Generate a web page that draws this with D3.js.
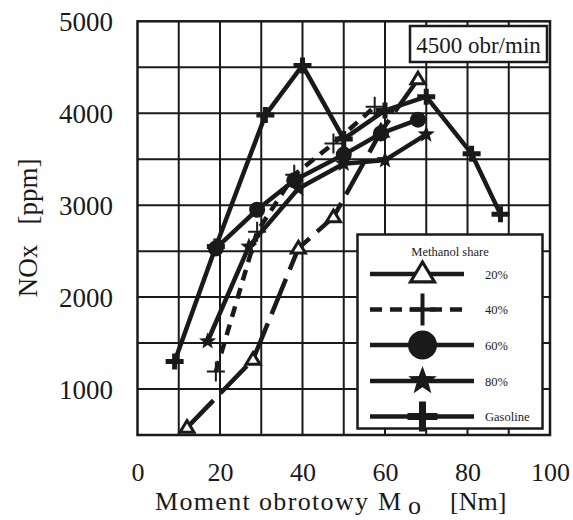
<!DOCTYPE html>
<html><head><meta charset="utf-8">
<script src="https://cdn.jsdelivr.net/npm/d3@7"></script>
<style>body{margin:0;background:#fff}svg{display:block}text{font-family:"Liberation Serif","Times New Roman",serif}</style>
</head><body><svg id="c" width="573" height="520"></svg>
<script>
// ---- data (torque [Nm], NOx [ppm]) ----
const torque20 = [12, 28, 39, 47.5, 59, 68];
const nox20    = [580, 1320, 2530, 2870, 3800, 4370];
const torque40 = [19, 29, 38, 47.5, 57.5];
const nox40    = [1190, 2710, 3330, 3670, 4070];
const torque60 = [19, 29, 38, 50, 59, 68];
const nox60    = [2530, 2950, 3270, 3550, 3780, 3930];
const torque80 = [17, 27, 39, 50, 60, 70];
const nox80    = [1520, 2550, 3180, 3450, 3490, 3770];
const torqueGas = [9, 19, 31, 40, 50, 60, 70, 81, 88];
const noxGas    = [1300, 2550, 3980, 4520, 3720, 4030, 4180, 3560, 2900];
const seriesNames = ["20%", "40%", "60%", "80%", "Gasoline"];
const xTicks = [0, 20, 40, 60, 80, 100];
const yTicks = [1000, 2000, 3000, 4000, 5000];
const legendTitle = "Methanol share";
const speedLabel = "4500 obr/min";

const FONT = "Liberation Serif";
const svg = d3.select("#c");
const x = d3.scaleLinear().domain([0, 100]).range([137.5, 550]);
const y = d3.scaleLinear().domain([500, 5000]).range([435, 21.3]);
const ink = "#1a1a1a";

// grid
const g = svg.append("g");
g.selectAll("line.vx").data(d3.range(10, 100, 10)).join("line")
  .attr("x1", d => x(d)).attr("x2", d => x(d)).attr("y1", y(500)).attr("y2", y(5000))
  .attr("stroke", ink).attr("stroke-width", 2);
g.selectAll("line.hy").data(d3.range(1000, 5000, 500)).join("line")
  .attr("y1", d => y(d)).attr("y2", d => y(d)).attr("x1", x(0)).attr("x2", x(100))
  .attr("stroke", ink).attr("stroke-width", 2);
g.append("rect").attr("x", x(0)).attr("y", y(5000)).attr("width", x(100) - x(0)).attr("height", y(500) - y(5000))
  .attr("fill", "none").attr("stroke", ink).attr("stroke-width", 2.5);

// axes labels
const xAxis = d3.axisBottom(x).tickValues(xTicks).tickFormat(d3.format("d")).tickSize(0).tickPadding(0);
const xa = svg.append("g").attr("transform", `translate(0,${y(500)})`).call(xAxis).attr("font-family", FONT);
xa.select(".domain").remove();
xa.selectAll("text").attr("font-size", 26).attr("font-family", FONT).attr("fill", ink)
  .attr("dy", null).attr("y", 46);
const yAxis = d3.axisLeft(y).tickValues(yTicks).tickFormat(d3.format("d")).tickSize(0).tickPadding(0);
const ya = svg.append("g").attr("transform", `translate(113,0)`).call(yAxis).attr("font-family", FONT);
ya.select(".domain").remove();
ya.selectAll("text").attr("font-size", 27).attr("font-family", FONT).attr("fill", ink).attr("dy", "0.34em");

// axis titles
const xt = svg.append("text").attr("y", 510).attr("font-family", FONT).attr("font-size", 26).attr("fill", ink);
xt.append("tspan").attr("x", 155).attr("textLength", 213).attr("lengthAdjust", "spacing").text("Moment obrotowy");
xt.append("tspan").attr("x", 378).text("M");
xt.append("tspan").attr("x", 408).attr("dy", 4).text("o");
xt.append("tspan").attr("x", 450).attr("dy", -4).text("[Nm]");
svg.append("text").attr("transform", "translate(37,228) rotate(-90)").attr("text-anchor", "middle")
  .attr("font-family", FONT).attr("font-size", 27).attr("fill", ink).style("white-space", "pre").text("NOx   [ppm]");

// marker painters
function triPath(s) { return `M0,${-s}L${s},${s * 0.65}L${-s},${s * 0.65}Z`; }
function starPath(R) {
  const r = R * 0.42; let p = "";
  for (let i = 0; i < 10; i++) {
    const a = -Math.PI / 2 + i * Math.PI / 5, rr = i % 2 ? r : R;
    p += (i ? "L" : "M") + (rr * Math.cos(a)).toFixed(2) + "," + (rr * Math.sin(a)).toFixed(2);
  }
  return p + "Z";
}
function plusPath(h, v) { return `M${-h},0L${h},0M0,${-v}L0,${v}`; }

function drawMarker(sel, kind, big) {
  if (kind === 0) sel.append("path").attr("d", triPath(big ? 12 : 7)).attr("fill", "#fff").attr("stroke", ink).attr("stroke-width", big ? 3.2 : 3);
  if (kind === 1) sel.append("path").attr("d", big ? plusPath(13, 16) : plusPath(9, 10)).attr("fill", "none").attr("stroke", ink).attr("stroke-width", big ? 4 : 2);
  if (kind === 2) sel.append("circle").attr("r", big ? 14.5 : 8).attr("fill", ink);
  if (kind === 3) sel.append("path").attr("d", starPath(big ? 15 : 9)).attr("fill", ink);
  if (kind === 4) sel.append("path").attr("d", big ? plusPath(15, 15) : plusPath(9, 8)).attr("fill", "none").attr("stroke", ink).attr("stroke-width", big ? 7 : 5);
}

const allSeries = [
  { xs: torque20, ys: nox20, dash: "38,10" },
  { xs: torque40, ys: nox40, dash: "11,8" },
  { xs: torque60, ys: nox60, dash: null },
  { xs: torque80, ys: nox80, dash: null },
  { xs: torqueGas, ys: noxGas, dash: null }
];
const line = d3.line().x(d => x(d[0])).y(d => y(d[1]));
allSeries.forEach((s, i) => {
  const pts = s.xs.map((v, j) => [v, s.ys[j]]);
  svg.append("path").attr("d", line(pts)).attr("fill", "none").attr("stroke", ink)
    .attr("stroke-width", 4.5).attr("stroke-linejoin", "miter").attr("stroke-dasharray", s.dash);
});
allSeries.forEach((s, i) => {
  s.xs.forEach((v, j) => {
    const m = svg.append("g").attr("transform", `translate(${x(v)},${y(s.ys[j])})`);
    drawMarker(m, i, false);
  });
});

// speed label box
svg.append("rect").attr("x", 410).attr("y", 26).attr("width", 137).attr("height", 36)
  .attr("fill", "#fff").attr("stroke", ink).attr("stroke-width", 2.5);
svg.append("text").attr("x", 478.5).attr("y", 53).attr("text-anchor", "middle").attr("font-family", FONT)
  .attr("font-size", 23).attr("fill", ink).text(speedLabel);

// legend
svg.append("rect").attr("x", 357.5).attr("y", 234.5).attr("width", 185).attr("height", 194)
  .attr("fill", "#fff").attr("stroke", ink).attr("stroke-width", 2.5);
svg.append("text").attr("x", 450).attr("y", 256).attr("text-anchor", "middle").attr("font-family", FONT)
  .attr("font-size", 12.5).attr("fill", ink).text(legendTitle);
const rowY = [274, 309.5, 345, 381, 416.5];
seriesNames.forEach((name, i) => {
  svg.append("line").attr("x1", 370).attr("x2", i < 2 ? 464 : 474).attr("y1", rowY[i]).attr("y2", rowY[i])
    .attr("stroke", ink).attr("stroke-width", 4.5).attr("stroke-dasharray", i === 1 ? "12,8" : null);
  const m = svg.append("g").attr("transform", `translate(422.5,${rowY[i]})`);
  drawMarker(m, i, true);
  svg.append("text").attr("x", 485).attr("y", rowY[i] + 4.5).attr("font-family", FONT)
    .attr("font-size", 12.5).attr("fill", ink).text(name);
});
</script></body></html>
